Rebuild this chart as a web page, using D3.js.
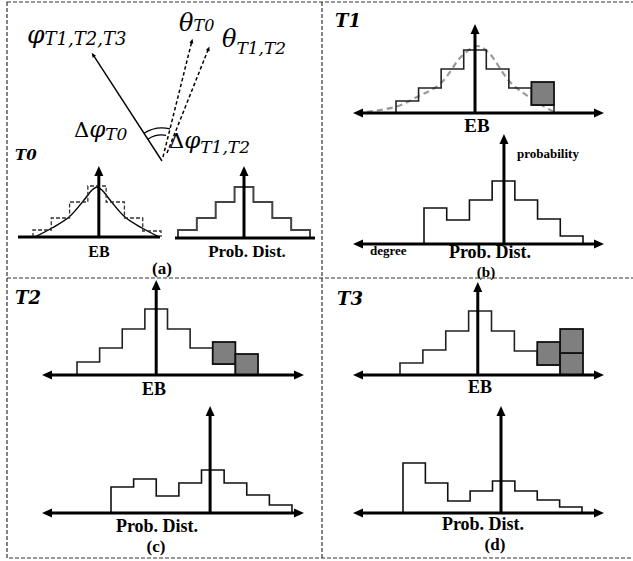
<!DOCTYPE html>
<html><head><meta charset="utf-8">
<script src="https://cdn.jsdelivr.net/npm/d3@7"></script>
<style>body{margin:0;background:#fff}</style>
</head><body>
<svg id="c" width="633" height="561"></svg>
<script>
// ---------------- data (bin heights, arbitrary units) ----------------
const ebT0 = [7, 19, 35, 51, 35, 19, 6];                 // dashed EB histogram (a)
const ebT0CurveX = [0.1, 1.04, 1.97, 2.79, 3.23, 3.5, 3.77, 4.21, 5.03, 5.96, 6.9];
const ebT0CurveY = [0, 9, 20, 37, 47, 50, 47, 37, 20, 9, 0];
const probT0 = [8, 20, 36, 51, 36, 20, 8];

const ebT1 = [12, 25, 44, 63, 44, 25, 8];
const ebT1Blocks = [[6, 8, 31]];                          // [bin, from, to]
const ebT1CurveX = [-1.73, -0.04, 0.93, 1.95, 2.92, 3.59, 4.08, 5.05, 6.03, 7.04, 7.35];
const ebT1CurveY = [0, 6, 16, 29, 57, 67, 61, 31, 14, 1, 0];
const probT1 = [36, 24, 44, 63, 44, 25, 8];

const ebT2 = [13, 27, 46, 66, 46, 27, 11];
const ebT2Blocks = [[6, 11, 33], [7, 0, 21]];
const probT2 = [26, 34, 17, 30, 43, 30, 18, 8];

const ebT3 = [12, 25, 44, 64, 44, 24, 10];
const ebT3Blocks = [[6, 10, 33], [7, 0, 22], [7, 22, 46]];
const probT3 = [50, 30, 12, 22, 32, 22, 13, 6];

// vectors in panel (a): angle (deg, ccw from +x), length
const vecNames = ["phi", "thetaT0", "thetaT12"];
const vecAngles = [123, 76, 67.5];
const vecLengths = [127, 124, 122];

// ---------------- drawing ----------------
const svg = d3.select("#c");
const defs = svg.append("defs");
function mk(id, path, w, ref) {
  defs.append("marker").attr("id", id).attr("viewBox", "0 -6 12 12")
    .attr("markerUnits", "userSpaceOnUse").attr("markerWidth", w).attr("markerHeight", w)
    .attr("refX", ref).attr("refY", 0).attr("orient", "auto-start-reverse")
    .append("path").attr("d", path).attr("fill", "#000");
}
mk("ah", "M0,-4.5L10,0L0,4.5Z", 12, 3);
mk("sa", "M2,-3L9,0L2,3Z", 8, 6);

// border
const B = svg.append("g").attr("fill", "none").attr("stroke", "#333")
  .attr("stroke-width", 1.2).attr("stroke-dasharray", "4,2");
B.append("rect").attr("x", 7).attr("y", 2).attr("width", 640).attr("height", 556);
B.append("line").attr("x1", 322).attr("x2", 322).attr("y1", 2).attr("y2", 558);
B.append("line").attr("x1", 7).attr("x2", 640).attr("y1", 278).attr("y2", 278);

function stepPts(bins) {
  const p = [[0, 0]];
  bins.forEach((h, i) => { p.push([i, h]); p.push([i + 1, h]); });
  p.push([bins.length, 0]);
  return p;
}

function plot(o) {
  const g = svg.append("g");
  const x = d3.scaleLinear().domain([0, o.n]).range([o.x0, o.x1]);
  const y = d3.scaleLinear().domain([0, 100]).range([o.base, o.base - 100]);
  if (o.curveX) {
    const pts = o.curveX.map((v, i) => [v, o.curveY[i]]);
    g.append("path").attr("d", d3.line().x(d => x(d[0])).y(d => y(d[1])).curve(d3.curveCatmullRom)(pts))
      .attr("fill", "none").attr("stroke", o.curveColor).attr("stroke-width", o.curveW)
      .attr("stroke-dasharray", o.curveDash || null);
  }
  g.append("path").attr("d", d3.line().x(d => x(d[0])).y(d => y(d[1]))(stepPts(o.bins)))
    .attr("fill", "none").attr("stroke", o.histColor).attr("stroke-width", o.histW)
    .attr("stroke-dasharray", o.histDash || null);
  (o.blocks || []).forEach(b => {
    g.append("rect").attr("x", x(b[0])).attr("width", x(b[0] + 1) - x(b[0]))
      .attr("y", y(b[2])).attr("height", y(b[1]) - y(b[2]))
      .attr("fill", "#7f7f7f").attr("stroke", "#111").attr("stroke-width", 1.8);
  });
  // axes
  const ax = x(o.axisAt);
  const h = g.append("line").attr("x1", o.xa + (o.arrows ? 6 : 0)).attr("x2", o.xb - (o.arrows ? 6 : 0))
    .attr("y1", o.base).attr("y2", o.base).attr("stroke", "#000").attr("stroke-width", 3);
  if (o.arrows) h.attr("marker-start", "url(#ah)").attr("marker-end", "url(#ah)");
  g.append("line").attr("x1", ax).attr("x2", ax).attr("y1", o.base).attr("y2", o.top + 6)
    .attr("stroke", "#000").attr("stroke-width", 3).attr("marker-end", "url(#ah)");
}

// (a)
plot({n: 7, x0: 33, x1: 161, base: 237, bins: ebT0, histColor: "#333", histW: 1.3, histDash: "4,2",
  curveX: ebT0CurveX, curveY: ebT0CurveY, curveColor: "#000", curveW: 1.4,
  axisAt: 3.6, xa: 18, xb: 160, top: 167, arrows: false});
plot({n: 7, x0: 178, x1: 310, base: 238, bins: probT0, histColor: "#444", histW: 2,
  axisAt: 3.5, xa: 175, xb: 315, top: 167, arrows: false});
// (b)
plot({n: 7, x0: 396, x1: 554, base: 113, bins: ebT1, blocks: ebT1Blocks, histColor: "#222", histW: 1.6,
  curveX: ebT1CurveX, curveY: ebT1CurveY, curveColor: "#9a9a9a", curveW: 2.2, curveDash: "6,4",
  axisAt: 3.5, xa: 354, xb: 603, top: 25, arrows: true});
plot({n: 7, x0: 424, x1: 583, base: 244, bins: probT1, histColor: "#111", histW: 1.6,
  axisAt: 3.52, xa: 354, xb: 603, top: 135, arrows: true});
// (c)
plot({n: 8, x0: 77, x1: 258, base: 375, bins: ebT2, blocks: ebT2Blocks, histColor: "#222", histW: 1.6,
  axisAt: 3.5, xa: 43, xb: 303, top: 281, arrows: true});
plot({n: 8, x0: 111, x1: 292, base: 513, bins: probT2, histColor: "#111", histW: 1.6,
  axisAt: 4.38, xa: 43, xb: 303, top: 407, arrows: true});
// (d)
plot({n: 8, x0: 400, x1: 583, base: 375, bins: ebT3, blocks: ebT3Blocks, histColor: "#222", histW: 1.6,
  axisAt: 3.4, xa: 354, xb: 603, top: 283, arrows: true});
plot({n: 8, x0: 403, x1: 582, base: 513, bins: probT3, histColor: "#111", histW: 1.6,
  axisAt: 4.38, xa: 354, xb: 603, top: 407, arrows: true});

// vectors (a)
const origin = [162, 161];
const starts = {phi: [0, 0], thetaT0: [1, -4], thetaT12: [5, -8]};
vecNames.forEach((nm, i) => {
  const a = vecAngles[i] * Math.PI / 180, L = vecLengths[i];
  const s = starts[nm];
  svg.append("line").attr("x1", origin[0] + s[0]).attr("y1", origin[1] + s[1])
    .attr("x2", origin[0] + L * Math.cos(a)).attr("y2", origin[1] - L * Math.sin(a))
    .attr("stroke", "#000").attr("stroke-width", nm === "phi" ? 1.4 : 1.5)
    .attr("stroke-dasharray", nm === "phi" ? null : "3.5,2.5")
    .attr("marker-end", "url(#sa)");
});
const arc = d3.arc();
[[33, 76], [26, 81]].forEach(([r, a1]) => {
  svg.append("path").attr("transform", `translate(${origin})`)
    .attr("d", arc({innerRadius: r, outerRadius: r,
      startAngle: (90 - vecAngles[0]) * Math.PI / 180, endAngle: (90 - a1) * Math.PI / 180}))
    .attr("fill", "none").attr("stroke", "#000").attr("stroke-width", 1.3);
});

// ---------------- text ----------------
const MATH = "'DejaVu Serif', serif";
const TXT = "'Liberation Serif', 'Times New Roman', serif";
function math(x, yb, main, sub, fsMain, fsSub, dySub) {
  const t = svg.append("text").attr("x", x).attr("y", yb).attr("font-family", MATH)
    .attr("font-style", "italic").attr("fill", "#000");
  t.append("tspan").attr("font-size", fsMain).text(main);
  t.append("tspan").attr("font-size", fsSub).attr("dy", dySub).text(sub);
}
math(27, 43, "φ", "T1,T2,T3", 25, 18, 2);
math(179, 31, "θ", "T0", 24, 16, 0);
math(222, 47, "θ", "T1,T2", 24, 17, 7);
svg.append("text").attr("x", 74).attr("y", 137).attr("font-family", MATH).attr("font-size", 21).text("Δ")
  .append("tspan").attr("font-style", "italic").attr("font-size", 23).text("φ")
  .append("tspan").attr("font-size", 17).attr("dy", 3).text("T0");
svg.append("text").attr("x", 169).attr("y", 148).attr("font-family", MATH).attr("font-size", 21).text("Δ")
  .append("tspan").attr("font-style", "italic").attr("font-size", 23).text("φ")
  .append("tspan").attr("font-size", 17).attr("dy", 5).text("T1,T2");

function lab(x, y, s, fs, anchor) {
  return svg.append("text").attr("x", x).attr("y", y).attr("font-family", TXT)
    .attr("font-weight", "bold").attr("font-size", fs).attr("text-anchor", anchor || "middle").text(s);
}
function tlab(x, y, s, fs) {
  svg.append("text").attr("x", x).attr("y", y).attr("font-family", MATH)
    .attr("font-weight", "bold").attr("font-style", "italic").attr("font-size", fs).text(s);
}
tlab(15, 160, "T0", 15);
tlab(335, 27, "T1", 18);
tlab(15, 304, "T2", 18);
tlab(337, 305, "T3", 18);

lab(99, 257, "EB", 16);
lab(247, 257, "Prob. Dist.", 17);
lab(162, 274, "(a)", 17);
lab(477, 132, "EB", 19);
lab(517, 158, "probability", 13, "start");
lab(370, 255, "degree", 13, "start");
lab(490, 258, "Prob. Dist.", 18);
lab(486, 277, "(b)", 15);
lab(154, 395, "EB", 18);
lab(157, 532, "Prob. Dist.", 18);
lab(156, 552, "(c)", 17);
lab(480, 393, "EB", 18);
lab(483, 530, "Prob. Dist.", 18);
lab(495, 550, "(d)", 17);
</script>
</body></html>
